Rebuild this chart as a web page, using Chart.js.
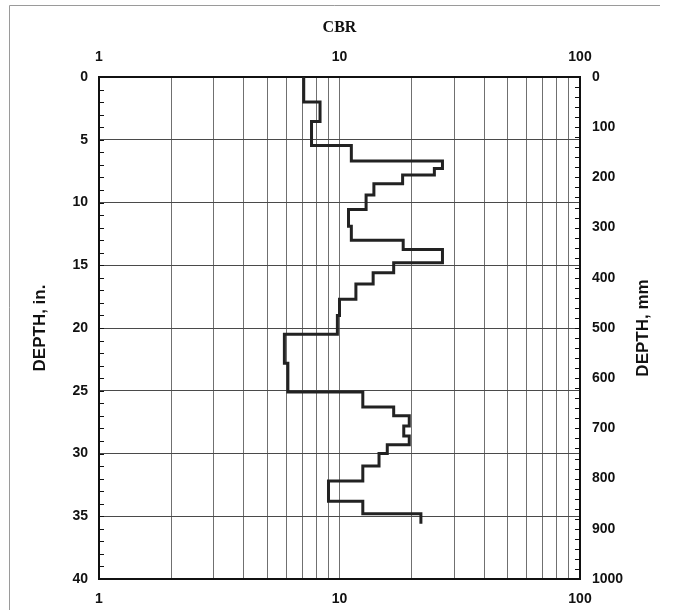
<!DOCTYPE html>
<html>
<head>
<meta charset="utf-8">
<script src="https://cdn.jsdelivr.net/npm/chart.js@4.4.1/dist/chart.umd.min.js"></script>
<style>
    html, body { margin: 0; padding: 0; background: #fff; }
    #wrap { position: relative; width: 675px; height: 610px; }
</style>
</head>
<body>
<div id="wrap"><canvas id="cbrChart"></canvas></div>
<script>
// ==================== DATA ====================
// layer boundaries (in.), top of each layer, last entry = bottom of last layer
const layerDepths = [0, 2.0, 3.55, 5.45, 6.7, 7.3, 7.8, 8.5, 9.4, 10.55, 11.9, 13.0, 13.75, 14.8,
    15.6, 16.5, 17.7, 19.0, 20.5, 22.8, 25.1, 26.3, 27.0, 27.8, 28.6, 29.3, 30.0, 31.0, 32.2,
    33.8, 34.8, 35.6];
// CBR of each layer
const cbrValues = [7.1, 8.3, 7.65, 11.2, 26.8, 24.8, 18.3, 13.9, 12.9, 10.9, 11.2, 18.4, 26.8,
    16.8, 13.8, 11.7, 10.0, 9.8, 5.9, 6.1, 12.5, 16.8, 19.5, 18.5, 19.5, 15.8, 14.6, 12.5, 9.0,
    12.5, 21.8];

const cbrGridValues = [1, 2, 3, 4, 5, 6, 7, 8, 9, 10, 20, 30, 40, 50, 60, 70, 80, 90, 100];
const cbrTickLabels = [1, 10, 100];
const depthInTicks = [0, 5, 10, 15, 20, 25, 30, 35, 40];
const depthMmTicks = [0, 100, 200, 300, 400, 500, 600, 700, 800, 900, 1000];

// ==================== STYLE ====================
const INK = '#111';
const GRID = '#707070';
const tickFont = { family: 'Liberation Sans', size: 14, weight: 'bold' };
const titleFont = { family: 'Liberation Sans', size: 17, weight: 'bold' };

// step profile: two corners per layer
const profilePoints = [];
cbrValues.forEach((v, i) => {
    profilePoints.push({ x: v, y: layerDepths[i] });
    profilePoints.push({ x: v, y: layerDepths[i + 1] });
});

// ==================== PLUGINS ====================
const decorations = {
    id: 'decorations',
    beforeDraw(chart) {
        const c = chart.ctx;
        c.save();
        c.fillStyle = '#fff';
        c.fillRect(0, 0, chart.width, chart.height);
        // scanned page frame
        c.strokeStyle = '#9a9a9a';
        c.lineWidth = 1;
        c.beginPath();
        c.moveTo(9.5, chart.height);
        c.lineTo(9.5, 5.5);
        c.lineTo(660, 5.5);
        c.stroke();
        c.restore();
    },
    afterDraw(chart) {
        const c = chart.ctx;
        const a = chart.chartArea;
        const yIn = chart.scales.y;
        const yMm = chart.scales.y2;
        c.save();
        c.strokeStyle = INK;
        c.lineWidth = 1.2;
        c.beginPath();
        // inward minor ticks, 1 in. on the left, 20 mm on the right
        for (let d = 1; d < 40; d++) {
            const py = Math.round(yIn.getPixelForValue(d)) + 0.5;
            c.moveTo(a.left, py);
            c.lineTo(a.left + 5, py);
        }
        for (let mm = 20; mm < 1000; mm += 20) {
            const py = Math.round(yMm.getPixelForValue(mm)) + 0.5;
            c.moveTo(a.right - 5, py);
            c.lineTo(a.right, py);
        }
        c.stroke();

        // right axis title, reading bottom to top
        c.fillStyle = INK;
        c.font = 'bold 17px "Liberation Sans"';
        c.textAlign = 'center';
        c.textBaseline = 'middle';
        c.translate(643, (a.top + a.bottom) / 2);
        c.rotate(-Math.PI / 2);
        c.fillText('DEPTH, mm', 0, 0);
        c.restore();
    }
};

// ==================== CHART ====================
const logTicks = scale => { scale.ticks = cbrGridValues.map(v => ({ value: v })); };
const edgeAware = (edges, color) => ctx => (edges.includes(ctx.tick.value) ? 'rgba(0,0,0,0)' : color);

new Chart(document.getElementById('cbrChart'), {
    type: 'scatter',
    data: {
        datasets: [{
            data: profilePoints,
            showLine: true,
            borderColor: '#222',
            borderWidth: 3,
            borderJoinStyle: 'miter',
            pointRadius: 0,
            fill: false,
            xAxisID: 'x',
            yAxisID: 'y'
        }]
    },
    options: {
        responsive: true,
        maintainAspectRatio: false,
        animation: false,
        layout: { padding: 0 },
        plugins: { legend: { display: false }, tooltip: { enabled: false } },
        scales: {
            x: {
                type: 'logarithmic',
                position: 'bottom',
                min: 1, max: 100,
                afterBuildTicks: logTicks,
                afterFit: s => { s.height = 31; },
                ticks: {
                    autoSkip: false, maxRotation: 0, padding: 12, color: INK, font: tickFont,
                    callback: v => (cbrTickLabels.includes(v) ? String(v) : '')
                },
                grid: { drawTicks: false, lineWidth: 1, color: edgeAware([1, 100], GRID) },
                border: { color: INK, width: 2 }
            },
            x2: {
                type: 'logarithmic',
                position: 'top',
                min: 1, max: 100,
                afterBuildTicks: logTicks,
                afterFit: s => { s.height = 77; },
                ticks: {
                    autoSkip: false, maxRotation: 0, padding: 11, color: INK, font: tickFont,
                    callback: v => (cbrTickLabels.includes(v) ? String(v) : '')
                },
                grid: { display: false, drawTicks: false },
                border: { color: INK, width: 2 },
                title: {
                    display: true, text: 'CBR', color: INK,
                    font: { family: 'Liberation Serif', size: 16, weight: 'bold' },
                    padding: { top: 18, bottom: 0 }
                }
            },
            y: {
                type: 'linear',
                position: 'left',
                reverse: true,
                min: 0, max: 40,
                afterBuildTicks: s => { s.ticks = depthInTicks.map(v => ({ value: v })); },
                afterFit: s => { s.width = 99; },
                ticks: { padding: 11, color: INK, font: tickFont, callback: v => String(v) },
                grid: { drawTicks: false, lineWidth: 1, color: edgeAware([0, 40], '#4a4a4a') },
                border: { color: INK, width: 2 },
                title: {
                    display: true, text: 'DEPTH, in.', color: INK, font: titleFont,
                    padding: { top: 30, bottom: 0 }
                }
            },
            y2: {
                type: 'linear',
                position: 'right',
                reverse: true,
                min: 0, max: 1000,
                afterBuildTicks: s => { s.ticks = depthMmTicks.map(v => ({ value: v })); },
                afterFit: s => { s.width = 95; },
                ticks: { padding: 12, color: INK, font: tickFont, callback: v => String(v) },
                grid: { display: false, drawTicks: false },
                border: { color: INK, width: 2 }
            }
        }
    },
    plugins: [decorations]
});
</script>
</body>
</html>
